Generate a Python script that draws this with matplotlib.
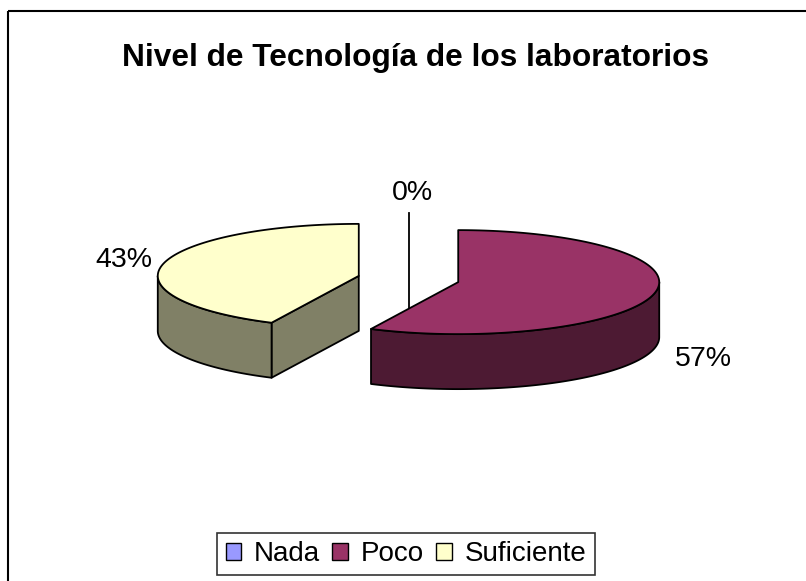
import numpy as np
import matplotlib.pyplot as plt
from matplotlib.patches import Polygon, Rectangle, Patch
from matplotlib.colors import to_rgb

plt.rcParams['font.family'] = ['Liberation Sans', 'DejaVu Sans']

# datos
categorias = ['Nada', 'Poco', 'Suficiente']
valores = [0, 4, 3]
colores = ['#9999FF', '#993366', '#FFFFCC']
titulo = 'Nivel de Tecnología de los laboratorios'

# geometria del pastel 3D (pixeles)
cx, cy = 408.5, 279.0
a, b, h = 201.0, 52.0, 55.0
ex, ey = 51.0, 14.0

fig = plt.figure(figsize=(8.06, 5.81), dpi=100)
ax = fig.add_axes([0, 0, 1, 1])
ax.set_xlim(0, 806)
ax.set_ylim(581, 0)
ax.axis('off')

# marco exterior
ax.add_patch(Rectangle((8, 11), 830, 600, fill=False, ec='black', lw=1.5, clip_on=False))

ax.text(416, 58, titulo, ha='center', va='center', fontsize=22.8, fontweight='bold')


def punto(x0, y0, t, dz=0.0):
    return (x0 + a * np.cos(t), y0 - b * np.sin(t) + dz)


total = sum(valores)
pct = [v / total for v in valores]
inicio = np.pi / 2
rebanadas = []
for p in pct:
    hi = inicio
    lo = inicio - 2 * np.pi * p
    rebanadas.append((lo, hi))
    inicio = lo

lw = 1.3
for i, (lo, hi) in enumerate(rebanadas):
    m = (lo + hi) / 2
    x0 = cx + ex * np.cos(m)
    y0 = cy - ey * np.sin(m)
    top = colores[i]
    side = tuple(c * 0.5 for c in to_rgb(top))

    if hi - lo < 1e-9:
        # rebanada vacia: solo la cara radial
        ax.plot([x0, x0], [y0 - b, y0 + h], color='black', lw=lw, zorder=0.5)
    else:
        # caras radiales visibles
        for ang, normal in ((hi, hi + np.pi / 2), (lo, lo - np.pi / 2)):
            if np.sin(normal) < -1e-6:
                r = punto(x0, y0, ang)
                pts = [(x0, y0), r, (r[0], r[1] + h), (x0, y0 + h)]
                ax.add_patch(Polygon(pts, closed=True, fc=side, ec='black', lw=lw, joinstyle='round'))
        # lado curvo (frente)
        s0 = max(lo, -np.pi) if lo < 0 else max(lo, np.pi)
        s1 = min(hi, 0) if lo < 0 else min(hi, 2 * np.pi)
        if s1 > s0:
            t = np.linspace(s0, s1, 120)
            sup = [punto(x0, y0, tt) for tt in t]
            inf = [punto(x0, y0, tt, h) for tt in t[::-1]]
            ax.add_patch(Polygon(sup + inf, closed=True, fc=side, ec='black', lw=lw, joinstyle='round'))
        # cara superior
        t = np.linspace(lo, hi, 200)
        pts = [(x0, y0)] + [punto(x0, y0, tt) for tt in t]
        ax.add_patch(Polygon(pts, closed=True, fc=top, ec='black', lw=lw, joinstyle='round'))

    # etiqueta
    frente = np.sin(m) < -1e-6
    lx = x0 + (a + (21 if frente else 11)) * np.cos(m)
    ly = y0 - (b + 20) * np.sin(m)
    if frente:
        ly += h * 1.1
    if abs(np.cos(m)) < 0.2:
        ha = 'center'
        lx += 4
    elif np.cos(m) > 0:
        ha = 'left'
    else:
        ha = 'right'
    ax.text(lx, ly, f'{round(pct[i] * 100):.0f}%', ha=ha, va='center', fontsize=20.5)

handles = [Patch(facecolor=c, edgecolor='black', lw=1) for c in colores]
leg = fig.legend(handles, categorias, ncol=3, loc='center',
                 bbox_to_anchor=(406 / 806, 1 - 554 / 581), fontsize=20,
                 frameon=True, fancybox=False, edgecolor='black',
                 handlelength=0.57, handleheight=0.57, handletextpad=0.45,
                 columnspacing=0.45, borderpad=0.3, borderaxespad=0)
leg.get_frame().set_linewidth(1.2)

fig.savefig('out.png', dpi=100)
